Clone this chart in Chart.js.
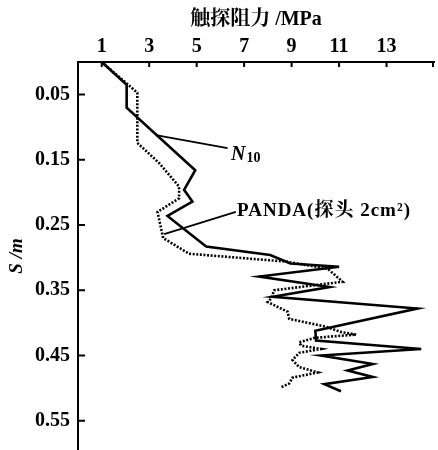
<!DOCTYPE html>
<html>
<head>
<meta charset="utf-8">
<script src="https://cdn.jsdelivr.net/npm/chart.js@4.4.1/dist/chart.umd.min.js"></script>
<style>
  html, body { margin: 0; padding: 0; background: #fff; }
  #wrap { width: 438px; height: 450px; }
</style>
</head>
<body>
<div id="wrap"><canvas id="sChart"></canvas></div>
<script>
// resistance (MPa) vs depth S (m)
const n10Mpa   = [1.0, 2.05, 2.05, 4.94, 4.47, 4.82, 3.77, 5.4, 8.1, 8.95, 11.0, 7.64, 10.6, 8.2, 14.3, 10.0, 10.03, 14.46, 10.24, 12.42, 11.36, 12.42, 10.38, 11.08];
const n10Depth = [0.0, 0.035, 0.07, 0.166, 0.196, 0.214, 0.236, 0.283, 0.296, 0.309, 0.314, 0.329, 0.345, 0.36, 0.378, 0.412, 0.427, 0.44, 0.45, 0.463, 0.473, 0.483, 0.494, 0.505];

const pandaMpa   = [1.0, 2.5, 2.5, 3.42, 4.26, 4.26, 3.35, 3.59, 4.68, 8.06, 8.76, 10.52, 11.15, 8.27, 8.13, 7.99, 8.83, 8.9, 10.45, 11.08, 11.72, 9.96, 9.32, 9.4, 10.24, 9.32, 9.04, 9.32, 10.1, 9.04, 8.9, 8.55];
const pandaDepth = [0.0, 0.047, 0.124, 0.155, 0.191, 0.209, 0.23, 0.27, 0.294, 0.304, 0.306, 0.317, 0.337, 0.35, 0.363, 0.368, 0.383, 0.394, 0.406, 0.414, 0.418, 0.423, 0.43, 0.435, 0.44, 0.446, 0.457, 0.468, 0.476, 0.484, 0.493, 0.499];

const xTicks = [1, 3, 5, 7, 9, 11, 13];
const yTicks = [0.05, 0.15, 0.25, 0.35, 0.45, 0.55];

const FONT = "'Liberation Serif', 'Noto Serif CJK SC', 'Noto Sans CJK SC', serif";

function pts(xs, ys) {
    return xs.map((x, i) => ({ x: x, y: ys[i] }));
}

// inward tick marks + leader-line labels
const extras = {
    id: 'extras',
    afterDraw(chart) {
        const c = chart.ctx;
        const xs = chart.scales.x, ys = chart.scales.y;
        const area = chart.chartArea;
        c.save();
        c.strokeStyle = '#000';
        c.lineWidth = 2;
        c.beginPath();
        xTicks.concat([15]).forEach(v => {
            const px = Math.min(xs.getPixelForValue(v), area.right - 1);
            c.moveTo(px, area.top);
            c.lineTo(px, area.top + 5);
        });
        yTicks.forEach(v => {
            const py = ys.getPixelForValue(v);
            c.moveTo(area.left, py);
            c.lineTo(area.left + 7, py);
        });
        c.stroke();

        // leader lines
        c.lineWidth = 1.8;
        c.beginPath();
        c.moveTo(xs.getPixelForValue(3.28), ys.getPixelForValue(0.112));
        c.lineTo(xs.getPixelForValue(6.3), ys.getPixelForValue(0.132));
        c.moveTo(xs.getPixelForValue(3.63), ys.getPixelForValue(0.264));
        c.lineTo(xs.getPixelForValue(6.65), ys.getPixelForValue(0.23));
        c.stroke();

        c.fillStyle = '#000';
        c.textBaseline = 'middle';
        let lx = xs.getPixelForValue(6.45), ly = ys.getPixelForValue(0.142);
        c.font = 'italic bold 20px ' + FONT;
        c.fillText('N', lx, ly);
        const w = c.measureText('N').width;
        c.font = 'bold 14px ' + FONT;
        c.fillText('10', lx + w + 1, ly + 4);

        lx = xs.getPixelForValue(6.7); ly = ys.getPixelForValue(0.229);
        c.font = 'bold 19px ' + FONT;
        c.letterSpacing = '1px';
        c.fillText('PANDA(探头 2cm²)', lx, ly);
        c.restore();
    }
};

new Chart(document.getElementById('sChart'), {
    type: 'scatter',
    data: {
        datasets: [{
            label: 'N10',
            data: pts(n10Mpa, n10Depth),
            showLine: true,
            borderColor: '#000',
            borderWidth: 2.6,
            pointRadius: 0,
            tension: 0
        }, {
            label: 'PANDA',
            data: pts(pandaMpa, pandaDepth),
            showLine: true,
            borderColor: '#000',
            borderWidth: 2.6,
            borderDash: [2, 1.6],
            pointRadius: 0,
            tension: 0
        }]
    },
    options: {
        responsive: true,
        maintainAspectRatio: false,
        animation: false,
        layout: { padding: { left: 0, right: 4, top: 0, bottom: 0 } },
        plugins: { legend: { display: false }, tooltip: { enabled: false } },
        scales: {
            x: {
                type: 'linear',
                position: 'top',
                min: 0,
                max: 15,
                afterBuildTicks: s => { s.ticks = xTicks.map(v => ({ value: v })); },
                afterFit: s => { s.height = 62; s.paddingLeft = 0; s.paddingRight = 0; },
                grid: { display: false, drawTicks: false },
                border: { display: true, color: '#000', width: 2 },
                ticks: {
                    autoSkip: false,
                    maxRotation: 0,
                    padding: 3,
                    color: '#000',
                    font: { family: FONT, size: 20, weight: 'bold' }
                },
                title: {
                    display: true,
                    text: '触探阻力 /MPa',
                    color: '#000',
                    padding: { top: 8, bottom: 0 },
                    font: { family: FONT, size: 20, weight: 'bold' }
                }
            },
            y: {
                type: 'linear',
                reverse: true,
                min: 0,
                max: 0.595,
                afterBuildTicks: s => { s.ticks = yTicks.map(v => ({ value: v })); },
                afterFit: s => { s.width = 78; s.paddingTop = 0; s.paddingBottom = 0; },
                grid: { display: false, drawTicks: false },
                border: { display: true, color: '#000', width: 2 },
                ticks: {
                    autoSkip: false,
                    padding: 8,
                    color: '#000',
                    font: { family: FONT, size: 20, weight: 'bold' },
                    callback: v => v.toFixed(2)
                },
                title: {
                    display: true,
                    text: 'S /m',
                    color: '#000',
                    padding: { top: 6, bottom: 0 },
                    font: { family: FONT, size: 19, weight: 'bold', style: 'italic' }
                }
            }
        }
    },
    plugins: [extras]
});
</script>
</body>
</html>
